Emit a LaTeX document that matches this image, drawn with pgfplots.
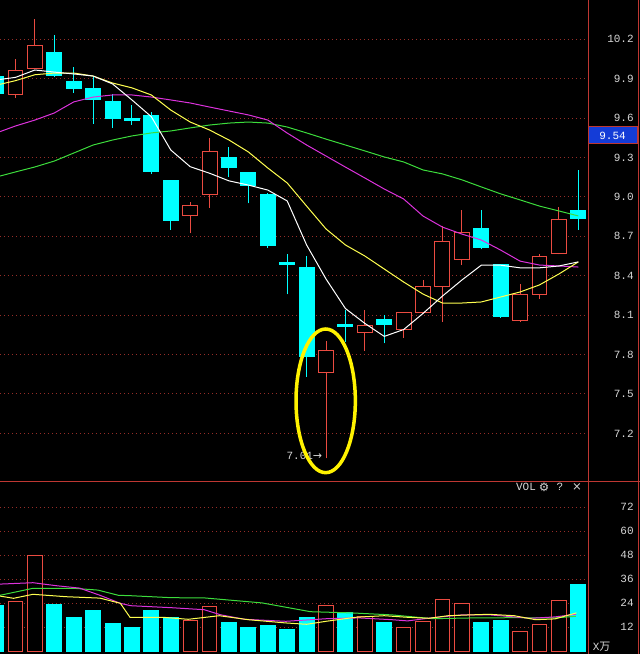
\documentclass[border=0pt]{standalone}
\usepackage{pgfplots}
\pgfplotsset{compat=1.18}
\usepackage{pgfplotstable}
\usepackage{fontspec}
\setmainfont{Liberation Mono}
\setmonofont{Liberation Mono}
\newfontfamily\cjk{Noto Sans CJK SC}
\newfontfamily\sym{DejaVu Sans}

\definecolor{upred}{RGB}{235,75,65}
\definecolor{dncyan}{RGB}{0,255,255}
\definecolor{gridred}{RGB}{150,45,40}
\definecolor{framered}{RGB}{190,55,50}
\definecolor{may}{RGB}{255,255,80}
\definecolor{mam}{RGB}{220,50,220}
\definecolor{mag}{RGB}{60,220,60}
\definecolor{boxblue}{RGB}{20,60,215}
\definecolor{txtgray}{RGB}{215,215,215}

% daily candles: index, open, high, low, close
\pgfplotstableread{
k o h l c
-1 9.92 9.98 9.75 9.79
0 9.778 10.048 9.755 9.966
1 9.976 10.355 9.97 10.154
2 10.103 10.235 9.915 9.923
3 9.882 9.989 9.793 9.822
4 9.822 9.92 9.555 9.74
5 9.73 9.781 9.527 9.595
6 9.595 9.70 9.55 9.58
7 9.616 9.644 9.174 9.19
8 9.121 9.121 8.748 8.824
9 8.857 8.963 8.723 8.931
10 9.017 9.446 8.918 9.347
11 9.298 9.382 9.154 9.222
12 9.184 9.19 8.951 9.085
13 9.022 9.03 8.613 8.628
14 8.504 8.565 8.258 8.484
15 8.466 8.55 7.631 7.783
16 7.661 7.905 7.01 7.834
17 8.032 8.139 7.897 8.017
18 7.966 8.139 7.829 8.022
19 8.063 8.10 7.885 8.025
20 7.992 8.125 7.928 8.121
21 8.118 8.367 8.11 8.319
22 8.316 8.781 8.05 8.664
23 8.525 8.90 8.481 8.730
24 8.756 8.90 8.601 8.611
25 8.487 8.49 8.078 8.088
26 8.057 8.337 8.05 8.258
27 8.255 8.565 8.225 8.548
28 8.571 8.921 8.563 8.829
29 8.90 9.205 8.748 8.834
}\candles

\pgfplotsset{
  panel/.style={
    scale only axis, width=352.8pt, anchor=north west,
    xmin=-0.8, xmax=29.5,
    axis line style={draw=none}, tick style={draw=none},
    major tick length=0pt, xtick=\empty,
    yticklabel pos=right,
    ymajorgrids,
    major grid style={gridred, line width=0.6pt, dash pattern=on 0.6pt off 1.8pt},
    /pgf/number format/assume math mode=true,
    yticklabel style={anchor=east, xshift=27.6pt, inner sep=0pt,
      text=txtgray, font=\ttfamily\fontsize{6.6pt}{7pt}\selectfont},
  },
}

\begin{document}
\begin{tikzpicture}
\fill[black] (0pt,0pt) rectangle (384pt,-392.4pt);
\useasboundingbox (0pt,0pt) rectangle (384pt,-392.4pt);

% price panel
\begin{axis}[panel, at={(0pt,0pt)}, height=288.6pt,
  ymin=6.837, ymax=10.499,
  ytick={7.2,7.5,7.8,8.1,8.4,8.7,9.0,9.3,9.6,9.9,10.2},
  yticklabel={\pgfmathprintnumber[fixed,precision=1,fixed zerofill]{\tick}},
]
\pgfplotstablegetrowsof{\candles}
\pgfmathtruncatemacro\nrows{\pgfplotsretval-1}
\pgfplotsforeachungrouped \i in {0,...,\nrows}{%
  \pgfplotstablegetelem{\i}{k}\of\candles \let\K\pgfplotsretval
  \pgfplotstablegetelem{\i}{o}\of\candles \let\O\pgfplotsretval
  \pgfplotstablegetelem{\i}{h}\of\candles \let\H\pgfplotsretval
  \pgfplotstablegetelem{\i}{l}\of\candles \let\L\pgfplotsretval
  \pgfplotstablegetelem{\i}{c}\of\candles \let\C\pgfplotsretval
  \pgfmathtruncatemacro\up{\C>=\O}
  \ifnum\up=1 \def\cc{upred}\def\fc{black}\else\def\cc{dncyan}\def\fc{dncyan}\fi
  \pgfmathsetmacro\xa{\K-0.385}
  \pgfmathsetmacro\xb{\K+0.385}
  \edef\temp{%
    \noexpand\addplot[\cc, line width=0.6pt, forget plot] coordinates {(\K,\L) (\K,\H)};
    \noexpand\addplot[draw=\cc, fill=\fc, line width=0.6pt, forget plot]
      coordinates {(\xa,\O) (\xb,\O) (\xb,\C) (\xa,\C)} -- cycle;
  }\temp
}
% moving averages
\addplot[mag, line width=0.6pt] coordinates {
(-1,9.151) (0,9.19) (1,9.228) (2,9.273) (3,9.334) (4,9.395) (5,9.433) (6,9.464)
(7,9.487) (8,9.502) (9,9.525) (10,9.547) (11,9.562) (12,9.57) (13,9.562) (14,9.532)
(15,9.487) (16,9.44) (17,9.395) (18,9.35) (19,9.304) (20,9.266) (21,9.205) (22,9.175)
(23,9.13) (24,9.076) (25,9.023) (26,8.977) (27,8.93) (28,8.893) (29,8.855)};
\addplot[mam, line width=0.6pt] coordinates {
(-1,9.486) (0,9.54) (1,9.585) (2,9.639) (3,9.723) (4,9.76) (5,9.776) (6,9.776)
(7,9.76) (8,9.738) (9,9.715) (10,9.684) (11,9.654) (12,9.624) (13,9.585) (14,9.486)
(15,9.395) (16,9.311) (17,9.227) (18,9.144) (19,9.06) (20,8.984) (21,8.854) (22,8.77)
(23,8.717) (24,8.672) (25,8.595) (26,8.511) (27,8.481) (28,8.474) (29,8.466)};
\addplot[may, line width=0.6pt] coordinates {
(-1,9.85) (0,9.885) (1,9.93) (2,9.943) (3,9.943) (4,9.92) (5,9.867) (6,9.83)
(7,9.776) (8,9.661) (9,9.57) (10,9.509) (11,9.433) (12,9.342) (13,9.22) (14,9.106)
(15,8.93) (16,8.756) (17,8.634) (18,8.55) (19,8.451) (20,8.352) (21,8.26) (22,8.192)
(23,8.192) (24,8.2) (25,8.238) (26,8.276) (27,8.33) (28,8.413) (29,8.505)};
\addplot[white, line width=0.6pt] coordinates {
(-1,9.89) (0,9.91) (1,9.966) (2,9.95) (3,9.936) (4,9.92) (5,9.86) (6,9.738)
(7,9.61) (8,9.357) (9,9.23) (10,9.18) (11,9.122) (12,9.09) (13,9.052) (14,8.969)
(15,8.634) (16,8.375) (17,8.15) (18,8.037) (19,7.938) (20,7.99) (21,8.113) (22,8.245)
(23,8.367) (24,8.48) (25,8.48) (26,8.46) (27,8.46) (28,8.474) (29,8.505)};
\end{axis}

% volume panel
\begin{axis}[panel, at={(0pt,-288.6pt)}, height=103.8pt,
  ymin=-1.35, ymax=85.15,
  ytick={12,24,36,48,60,72},
]
\addplot[ybar, bar width=0.74, bar shift=0pt, draw=upred, fill=black, line width=0.6pt]
coordinates {(0,25) (1,47.8) (9,15.5) (10,22.3) (16,23) (18,17.5) (20,12) (21,15)
(22,26) (23,24) (26,10) (27,13.5) (28,25.3)};
\addplot[ybar, bar width=0.77, bar shift=0pt, draw=dncyan, fill=dncyan, line width=0pt]
coordinates {(-1,22.7) (2,23.2) (3,17) (4,20.5) (5,14) (6,12) (7,20.5) (8,17)
(11,14.5) (12,12) (13,13) (14,11) (15,17) (17,19.2) (19,14.5) (24,14.5) (25,15.5) (29,33.5)};
\addplot[mag, line width=0.6pt] coordinates {
(-0.8,28) (0.9,31.5) (3,31.5) (4.25,30.6) (5.3,28) (5.93,27.8) (8.04,26.8) (9.72,26.7)
(12.7,24.2) (15.2,19.8) (17.3,19.2) (19.4,18.2) (21.5,16.3) (23.6,16.7) (25.7,16.8)
(27.8,16.7) (28.87,17.5)};
\addplot[mam, line width=0.6pt] coordinates {
(-0.8,33.6) (0.9,34.3) (2.1,32.8) (3.3,31.6) (4.35,28) (5.4,24) (5.93,22.8) (8.04,21.8)
(9.72,20.8) (10.55,18.3) (11.8,16) (13.93,15) (16.03,16.3) (17.7,16.7) (19.4,15.8)
(20.2,15.2) (21.5,16.8) (23,18.2) (24.45,18.2) (25.7,17.2) (26.55,16.5) (27.8,17.2)
(28.87,18.5)};
\addplot[may, line width=0.6pt] coordinates {
(-0.8,27.6) (-0.1,26.5) (0.9,28.5) (2.6,27.3) (4.35,26.6) (5.4,24) (5.9,17) (7.6,17)
(8.9,16) (10.5,17.8) (12.0,15.8) (13.9,14.2) (15,13.5) (16,15) (17.5,17) (19,17.8)
(20.2,17) (21.3,16.5) (22.3,17.8) (23.4,18.2) (24.4,18.5) (25.7,17.8) (26.8,15.8)
(27.8,16.2) (28.9,19.2)};
\end{axis}

% frame lines
\draw[framered, line width=0.6pt] (0pt,-288.6pt) -- (384pt,-288.6pt);
\draw[framered, line width=0.6pt] (352.8pt,0pt) -- (352.8pt,-392.4pt);
\draw[framered, line width=0.6pt] (382.8pt,0pt) -- (382.8pt,-392.4pt);

% last price box
\draw[framered, fill=boxblue, line width=0.6pt] (352.8pt,-76.2pt) rectangle (382.2pt,-86.4pt);
\node[text=white, font=\ttfamily\fontsize{6.6pt}{7pt}\selectfont, inner sep=0pt]
  at (367.5pt,-81.3pt) {9.54};

% volume panel header
\node[text=txtgray, font=\ttfamily\fontsize{6.6pt}{7pt}\selectfont, inner sep=0pt]
  at (315.6pt,-292.2pt) {VOL};
\node[text=txtgray, font=\sym\fontsize{7pt}{7pt}\selectfont, inner sep=0pt]
  at (326.4pt,-292.2pt) {⚙};
\node[text=txtgray, font=\ttfamily\fontsize{6.6pt}{7pt}\selectfont, inner sep=0pt]
  at (336pt,-292.2pt) {?};
\node[text=txtgray, font=\sym\fontsize{7pt}{7pt}\selectfont, inner sep=0pt]
  at (346.2pt,-292.2pt) {×};
\node[text=txtgray, font=\fontsize{6.6pt}{7pt}\selectfont, inner sep=0pt, anchor=west]
  at (355.5pt,-388.2pt) {X\cjk 万};

% low annotation and highlight
\node[text=txtgray, font=\ttfamily\fontsize{6.6pt}{7pt}\selectfont, inner sep=0pt, anchor=east]
  at (193.5pt,-273.4pt) {7.01\sym→};
\draw[yellow, line width=2.1pt] (195.4pt,-240.5pt) ellipse (17.8pt and 43.1pt);
\end{tikzpicture}
\end{document}
